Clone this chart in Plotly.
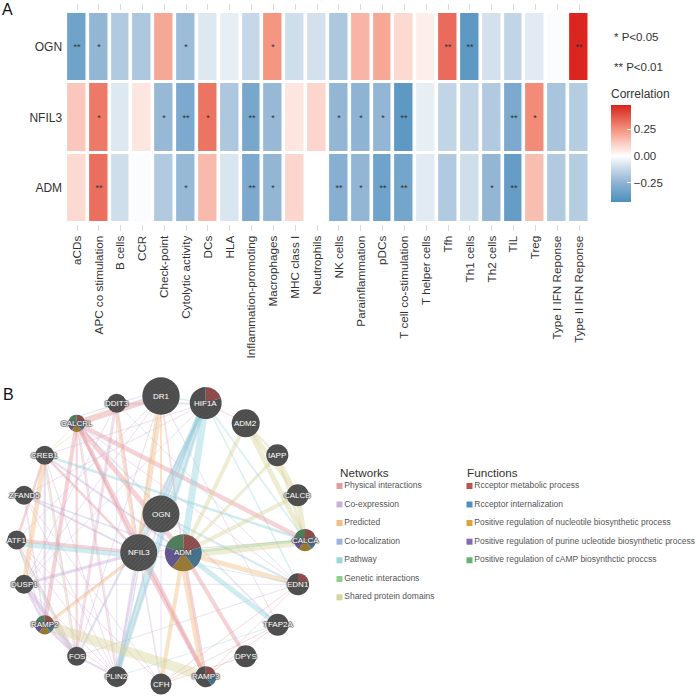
import plotly.graph_objects as go

W = 697
FONT = "Liberation Sans"

# Panel A data
cell_types = ["aCDs", "APC co stimulation", "B cells", "CCR", "Check-point", "Cytolytic activity", "DCs", "HLA",
              "Inflammation-promoting", "Macrophages", "MHC class I", "Neutrophils", "NK cells", "Parainflammation",
              "pDCs", "T cell co-stimulation", "T helper cells", "Tfh", "Th1 cells", "Th2 cells", "TIL", "Treg",
              "Type I IFN Reponse", "Type II IFN Reponse"]
genes = ["ADM", "NFIL3", "OGN"]

ogn_corr = [-0.33, -0.24, -0.17, -0.18, 0.20, -0.22, -0.07, -0.05, -0.12, 0.24, -0.10, -0.09,
            -0.18, 0.17, 0.20, 0.09, 0.04, 0.33, -0.38, -0.09, -0.13, -0.06, -0.01, 0.47]
nfil3_corr = [0.13, 0.30, -0.07, 0.06, -0.23, -0.30, 0.31, -0.18, -0.31, -0.23, 0.06, 0.10,
              -0.24, -0.25, -0.24, -0.38, -0.05, -0.13, -0.13, -0.17, -0.30, 0.26, -0.19, -0.16]
adm_corr = [0.09, 0.32, -0.10, -0.01, -0.17, -0.23, 0.16, -0.08, -0.30, -0.24, 0.10, 0.00,
            -0.27, -0.24, -0.33, -0.32, -0.06, -0.17, -0.10, -0.24, -0.36, 0.15, -0.17, -0.16]

ogn_stars = ["**", "*", "", "", "", "*", "", "", "", "*", "", "", "", "", "", "", "", "**", "**", "", "", "", "", "**"]
nfil3_stars = ["", "*", "", "", "*", "**", "*", "", "**", "*", "", "", "*", "*", "*", "**", "", "", "", "", "**", "*", "", ""]
adm_stars = ["", "**", "", "", "", "*", "", "", "**", "*", "", "", "**", "*", "**", "**", "", "", "", "*", "**", "", "", ""]

# Panel B data, node positions follow the circular GeneMANIA layout
node_names = ["DR1", "HIF1A", "ADM2", "IAPP", "CALCB", "CALCA", "EDN1", "TFAP2A", "DPYS", "RAMP3", "CFH", "PLIN2",
              "FOS", "RAMP2", "DUSP1", "ATF1", "ZFAND5", "CREB1", "CALCRL", "DDIT3", "OGN", "NFIL3", "ADM"]
node_x = [161, 205.7, 245.7, 277.3, 297.7, 305, 298, 277.7, 245.7, 205.7, 161, 116.7,
          76.7, 44.7, 24, 16.7, 24, 44.7, 76.7, 116.7, 161, 138.7, 183.3]
node_y = [396, 403, 423.3, 455.3, 495.3, 540, 584.3, 624.7, 656.3, 676.7, 684, 676.7,
          656.3, 624.7, 584.3, 540, 495.3, 455.3, 423.3, 403.3, 514, 552.7, 552.7]
node_r = [18.7, 16, 14, 11, 11, 11, 11, 11, 11, 10.5, 10.5, 10.5,
          9.5, 9.5, 9.5, 9.5, 9.5, 9.5, 8.5, 9.5, 18.5, 18.5, 18.5]

# number of the five functions each gene carries, the rest of the disc stays grey
all_functions = ["Rcceptor metabolic process", "Rcceptor internalization",
                 "Positive regulation of nucleotile biosynthetic process",
                 "Positive regulation of purine ucleotide biosynthetic process",
                 "Positive regulation of cAMP biosynthctic proccss"]
function_colors = ["#bb5450", "#4d8fc2", "#e0a336", "#8068b4", "#5cb571"]
slice_colors = ["#8e4a4a", "#41708f", "#98792f", "#5e5290", "#4b7d58"]
node_functions = {"HIF1A": 1, "EDN1": 1, "RAMP3": 2, "CALCA": 5, "CALCRL": 5, "RAMP2": 5, "ADM": 5}

network_names = ["Physical interactions", "Co-expression", "Predicted", "Co-localization", "Pathway",
                 "Genetic interactions", "Shared protein domains"]
network_colors = ["#e6969e", "#c7a9d8", "#f4bb80", "#9db0dc", "#8fd3dc", "#8ccd8c", "#d8d498"]
legend_network_colors = ["#e59a9f", "#c9b2d6", "#f0bf84", "#a0b2dc", "#98d6d8", "#8fcf8e", "#d8d49c"]

physical = [("DR1", "CALCRL", 6), ("CALCRL", "ADM", 5), ("CALCRL", "RAMP2", 4), ("CALCRL", "RAMP3", 4),
            ("CALCRL", "CALCA", 4.5), ("ATF1", "NFIL3", 3.5), ("NFIL3", "RAMP3", 4), ("ADM", "DPYS", 4),
            ("ADM", "RAMP3", 3), ("CREB1", "ATF1", 2.5), ("CREB1", "NFIL3", 2.5), ("CALCRL", "NFIL3", 3),
            ("DDIT3", "NFIL3", 2), ("DR1", "ADM", 1.5), ("RAMP2", "NFIL3", 1), ("FOS", "DDIT3", 1.5),
            ("FOS", "CREB1", 1.5), ("CALCRL", "FOS", 2), ("CFH", "TFAP2A", 1), ("RAMP3", "TFAP2A", 1),
            ("RAMP3", "EDN1", 1), ("NFIL3", "OGN", 1.5), ("HIF1A", "DDIT3", 1), ("ADM2", "HIF1A", 1),
            ("NFIL3", "CALCA", 1), ("PLIN2", "CALCRL", 1.5), ("CFH", "EDN1", 1), ("ATF1", "CFH", 1),
            ("FOS", "ATF1", 1), ("PLIN2", "OGN", 1), ("DPYS", "CFH", 1)]
coexpression = [("HIF1A", "NFIL3", 2), ("HIF1A", "OGN", 1.5), ("HIF1A", "FOS", 1), ("DUSP1", "FOS", 4),
                ("DUSP1", "RAMP2", 2.5), ("RAMP2", "FOS", 3), ("DUSP1", "NFIL3", 3), ("FOS", "PLIN2", 2),
                ("ZFAND5", "NFIL3", 2), ("CREB1", "ADM", 2), ("DDIT3", "FOS", 1.5), ("ATF1", "FOS", 1.5),
                ("PLIN2", "NFIL3", 2.5), ("CFH", "NFIL3", 1.5), ("RAMP2", "ZFAND5", 1.5), ("ZFAND5", "CFH", 1),
                ("FOS", "DR1", 1), ("PLIN2", "DR1", 1), ("ATF1", "RAMP2", 1.5), ("CREB1", "RAMP2", 2),
                ("ATF1", "DR1", 1), ("DUSP1", "HIF1A", 1), ("CALCRL", "EDN1", 1), ("DUSP1", "EDN1", 1),
                ("FOS", "EDN1", 1), ("CALCRL", "TFAP2A", 1), ("DR1", "TFAP2A", 1), ("PLIN2", "CALCRL", 1),
                ("ZFAND5", "PLIN2", 1), ("DDIT3", "DUSP1", 1), ("HIF1A", "PLIN2", 1.5), ("OGN", "CFH", 1),
                ("ATF1", "PLIN2", 1), ("DUSP1", "PLIN2", 1), ("CREB1", "PLIN2", 1), ("CREB1", "HIF1A", 1),
                ("DDIT3", "PLIN2", 1), ("ZFAND5", "HIF1A", 1), ("RAMP2", "PLIN2", 1), ("DUSP1", "DR1", 1)]
predicted = [("DR1", "NFIL3", 6), ("CREB1", "DUSP1", 5), ("ADM", "EDN1", 5), ("ADM", "CFH", 4), ("ADM", "RAMP3", 4),
             ("RAMP2", "NFIL3", 3), ("DDIT3", "NFIL3", 2), ("DR1", "OGN", 2)]
colocalization = [("ZFAND5", "ADM", 1.5), ("CALCRL", "TFAP2A", 1), ("PLIN2", "NFIL3", 1.5), ("OGN", "PLIN2", 1),
                  ("DDIT3", "EDN1", 1), ("FOS", "HIF1A", 1.5), ("DR1", "CALCRL", 1), ("OGN", "EDN1", 1)]
pathway = [("HIF1A", "ADM", 7), ("HIF1A", "PLIN2", 7), ("ATF1", "NFIL3", 5), ("ADM", "TFAP2A", 5),
           ("CREB1", "CALCA", 2.5), ("HIF1A", "EDN1", 1.5), ("HIF1A", "CALCA", 1.5), ("HIF1A", "DR1", 1.5),
           ("HIF1A", "NFIL3", 3), ("HIF1A", "OGN", 3), ("NFIL3", "EDN1", 1), ("PLIN2", "TFAP2A", 1),
           ("DDIT3", "HIF1A", 1), ("OGN", "EDN1", 1.5)]
genetic = [("ATF1", "FOS", 1), ("ADM", "CALCA", 3), ("CREB1", "FOS", 1)]
shared = [("RAMP2", "RAMP3", 10), ("ADM", "CALCA", 5), ("ADM2", "ADM", 4), ("ADM2", "CALCA", 5), ("ADM2", "CALCB", 4),
          ("IAPP", "ADM", 3), ("IAPP", "CALCA", 3), ("IAPP", "ADM2", 2), ("CALCB", "CALCA", 5), ("CALCB", "ADM", 4),
          ("IAPP", "CALCB", 2.5), ("CALCRL", "CREB1", 1), ("DDIT3", "CREB1", 1), ("CALCRL", "DDIT3", 1)]
network_edges = [physical, coexpression, predicted, colocalization, pathway, genetic, shared]

# Legend rows and note text
note_labels = ["* P&lt;0.05", "** P&lt;0.01"]
cbar_ticks = [-0.25, 0, 0.25]
cbar_text = ["\u22120.25", "0.00", "0.25"]


def px_x(v):
    return v / W


def px_y(v):
    return 1 - v / W


# colour stops: low end, -0.25, 0, 0.25, high end
zmin, zmax = -0.43, 0.477
scale_stops = [(-0.43, "#4a8fbd"), (-0.25, "#8fb3d3"), (-0.1, "#cfdeeb"), (0, "#ffffff"),
               (0.1, "#fcd5cc"), (0.25, "#f3917d"), (0.477, "#d9231c")]
colorscale = [[(v - zmin) / (zmax - zmin), c] for v, c in scale_stops]

fig = go.Figure()

fig.add_trace(go.Heatmap(
    z=[adm_corr, nfil3_corr, ogn_corr],
    x=cell_types,
    y=genes,
    text=[adm_stars, nfil3_stars, ogn_stars],
    texttemplate="%{text}",
    textfont=dict(size=9, color="#333333", family=FONT),
    xgap=3.6,
    ygap=3,
    zmin=zmin,
    zmax=zmax,
    colorscale=colorscale,
    hoverinfo="skip",
    colorbar=dict(
        x=px_x(611), xanchor="left", xpad=0,
        y=px_y(86), yanchor="top", ypad=0,
        thickness=20, thicknessmode="pixels",
        len=116, lenmode="pixels",
        outlinewidth=0,
        tickvals=cbar_ticks, ticktext=cbar_text,
        ticks="inside", ticklen=4, tickcolor="#ffffff", tickwidth=1,
        tickfont=dict(size=11.5, color="#333333", family=FONT),
        title=dict(text="Correlation", side="top", font=dict(size=12, color="#333333", family=FONT)),
    ),
))

# invisible trace so that the top tick axis is drawn
fig.add_trace(go.Scatter(x=cell_types, y=["OGN"] * len(cell_types), xaxis="x3", yaxis="y", mode="markers",
                         marker=dict(opacity=0), hoverinfo="skip", showlegend=False))

# network edges, several networks on one gene pair run side by side
pair_seen = {}
for edges, color in zip(network_edges, network_colors):
    for a, b, width in edges:
        i, j = node_names.index(a), node_names.index(b)
        dx, dy = node_x[j] - node_x[i], node_y[j] - node_y[i]
        length = (dx ** 2 + dy ** 2) ** 0.5
        key = frozenset((a, b))
        nudge = pair_seen.get(key, 0)
        pair_seen[key] = nudge + width
        ox, oy = -dy / length * nudge, dx / length * nudge
        fig.add_trace(go.Scatter(
            x=[node_x[i] + ox, node_x[j] + ox], y=[node_y[i] + oy, node_y[j] + oy],
            xaxis="x2", yaxis="y2", mode="lines",
            line=dict(color=color, width=width),
            opacity=0.42 if width > 1.5 else 0.34,
            hoverinfo="skip", showlegend=False,
        ))

# network legend squares and labels
fig.add_trace(go.Scatter(
    x=[339.5] * len(network_names), y=[486, 504.5, 523, 541.7, 560.3, 579, 597.3],
    xaxis="x2", yaxis="y2", mode="markers+text",
    marker=dict(symbol="square", size=6, color=legend_network_colors),
    text=network_names, textposition="middle right",
    textfont=dict(size=8.5, color="#555555", family=FONT),
    hoverinfo="skip", showlegend=False,
))
fig.add_trace(go.Scatter(
    x=[469.5] * len(all_functions), y=[486, 504.5, 523, 541.7, 560.3],
    xaxis="x2", yaxis="y2", mode="markers+text",
    marker=dict(symbol="square", size=6, color=function_colors),
    text=all_functions, textposition="middle right",
    textfont=dict(size=8.5, color="#555555", family=FONT),
    hoverinfo="skip", showlegend=False,
))

# nodes are pies so that the function slices and the hatching come for free
for name, cx, cy, r in zip(node_names, node_x, node_y, node_r):
    n = node_functions.get(name, 0)
    if name in ("HIF1A", "EDN1", "RAMP3"):
        vals = [1] * n + [5 - n]
        cols = slice_colors[:n] + ["#4d4d4d"]
    elif n == 5:
        vals = [1] * 5
        cols = slice_colors
    else:
        vals = [1]
        cols = ["#4d4d4d"]
    strong = name in ("OGN", "NFIL3", "ADM")
    fig.add_trace(go.Pie(
        values=vals,
        sort=False, direction="clockwise", rotation=0,
        textinfo="none", hoverinfo="skip", showlegend=False,
        domain=dict(x=[px_x(cx - r), px_x(cx + r)], y=[px_y(cy + r), px_y(cy - r)]),
        marker=dict(colors=cols, line=dict(width=0),
                    pattern=dict(shape="/", fillmode="overlay", fgcolor="#808080", size=3,
                                 solidity=0.25 if strong else 0.1)),
    ))

annotations = []
halo = ",".join(f"{dx}px {dy}px 1px #555555" for dx, dy in [(1, 0), (-1, 0), (0, 1), (0, -1)])
for name, cx, cy in zip(node_names, node_x, node_y):
    annotations.append(dict(x=cx, y=cy, xref="x2", yref="y2", text=name, showarrow=False,
                            font=dict(size=8, color="#ffffff", family=FONT, shadow=halo)))
for text, x, y, size in [("A", 0, 9, 16), ("B", 1, 394, 16)]:
    annotations.append(dict(x=x, y=y, xref="x2", yref="y2", text=text, showarrow=False, xanchor="left",
                            font=dict(size=size, color="#111111", family=FONT)))
for text, y in zip(note_labels, [37, 67]):
    annotations.append(dict(x=612, y=y, xref="x2", yref="y2", text=text, showarrow=False, xanchor="left",
                            font=dict(size=11.5, color="#333333", family=FONT)))
for text, x in [("Networks", 337.5), ("Functions", 464.5)]:
    annotations.append(dict(x=x, y=472, xref="x2", yref="y2", text=text, showarrow=False, xanchor="left",
                            font=dict(size=11.7, color="#333333", family=FONT)))

tick_style = dict(ticks="outside", ticklen=6, tickcolor="#dcdcdc", tickwidth=1, showgrid=False, zeroline=False,
                  showline=False)

fig.update_layout(
    width=W, height=W,
    margin=dict(l=0, r=0, t=0, b=0),
    paper_bgcolor="#ffffff",
    plot_bgcolor="rgba(0,0,0,0)",
    font=dict(family=FONT, color="#333333"),
    showlegend=False,
    annotations=annotations,
    xaxis=dict(domain=[px_x(66.1), px_x(590)], anchor="free", position=px_y(224), range=[-0.5, 23.5],
               tickangle=-90, tickfont=dict(size=11.7, color="#333333", family=FONT),
               categoryorder="array", categoryarray=cell_types, **tick_style),
    xaxis3=dict(domain=[px_x(66.1), px_x(590)], anchor="free", position=px_y(9.5), side="top", overlaying="x",
                matches="x", showticklabels=False, **tick_style),
    yaxis=dict(domain=[px_y(223), px_y(12)], anchor="x", range=[-0.5, 2.5], ticks="", ticklabelstandoff=3,
               tickfont=dict(size=12, color="#333333", family=FONT),
               showgrid=False, zeroline=False, showline=False),
    xaxis2=dict(domain=[0, 1], range=[0, W], visible=False, anchor="y2"),
    yaxis2=dict(domain=[0, 1], range=[W, 0], visible=False, anchor="x2"),
)

fig.write_html("out.html", config={"displayModeBar": False}, post_script="document.body.style.margin='0';")
